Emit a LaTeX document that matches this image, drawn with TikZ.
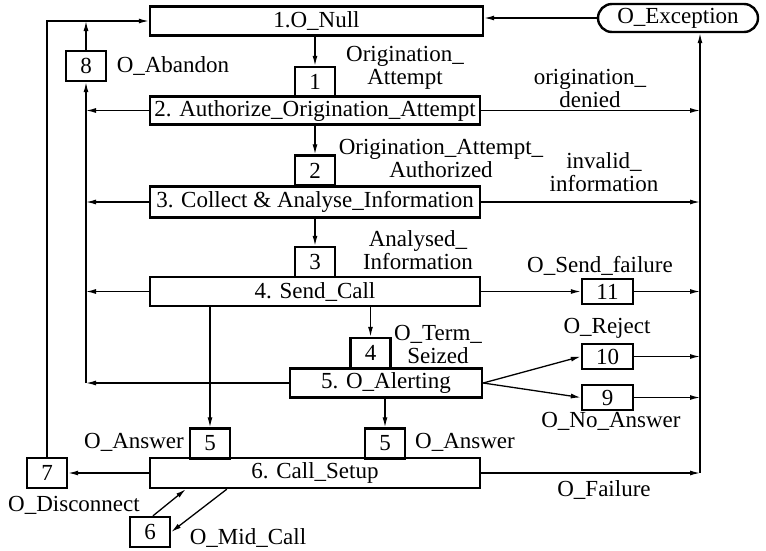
\documentclass[tikz,border=0pt]{standalone}
\usepackage{fontspec}
\setmainfont{Liberation Serif}
\usetikzlibrary{calc, arrows.meta}

\begin{document}
\begin{tikzpicture}[x=1pt, y=-1pt, line width=1.3pt,
  font=\fontsize{23}{23}\selectfont,
  arr/.style={-{Latex[length=10pt, width=5pt]}},
  statebox/.style={draw, line width=2.4pt, minimum width=330, minimum height=29, inner sep=0pt},
  numbox/.style={draw, line width=2.4pt, minimum width=40, minimum height=30, inner sep=0pt},
  wnumbox/.style={numbox, minimum width=51, minimum height=25},
  lbl/.style={inner sep=0pt, align=center}]
  \useasboundingbox (0,0) rectangle (766,550);

  % 状态框
  \node[statebox, minimum width=333] (null) at (316.5,21) {1.O\_Null};
  \node[statebox, minimum height=28] (auth) at (315,110.5) {2. Authorize\_Origination\_Attempt};
  \node[statebox, minimum height=31] (coll) at (315,202) {3. Collect \& Analyse\_Information};
  \node[statebox] (send) at (315,291.5) {4. Send\_Call};
  \node[statebox, minimum width=192] (alert) at (386,383) {5. O\_Alerting};
  \node[statebox, minimum height=30] (setup) at (315,473) {6. Call\_Setup};
  \node[statebox, minimum width=160, minimum height=28, rounded corners=14] (exc) at (678,18) {O\_Exception};

  % 编号小框
  \node[numbox] (b1) at (315,82) {1};
  \node[numbox] (b2) at (315,170.5) {2};
  \node[numbox] (b3) at (315,262) {3};
  \node[numbox] (b4) at (370.5,353) {4};
  \node[numbox] (b5a) at (210,443.5) {5};
  \node[numbox] (b5b) at (385,443.5) {5};
  \node[numbox] (b6) at (150,532) {6};
  \node[numbox] (b7) at (47,473) {7};
  \node[numbox] (b8) at (86,66) {8};
  \node[wnumbox] (b9) at (607.5,397.5) {9};
  \node[wnumbox] (b10) at (607.5,356.5) {10};
  \node[wnumbox] (b11) at (607.5,291.5) {11};

  \coordinate (rbot) at (700,473);
  \coordinate (lbus) at (86,383);

  % 主流程
  \draw[arr] (null.south -| b1) -- (b1.north);
  \draw[arr] (auth.south -| b2) -- (b2.north);
  \draw[arr] (coll.south -| b3) -- (b3.north);
  \draw[arr] (send.south -| b4) -- (b4.north);
  \draw[arr] (send.south -| b5a) -- (b5a.north);
  \draw[arr] (alert.south -| b5b) -- (b5b.north);
  \draw[arr] ($(b6.north)+(3,0)$) -- ($(setup.south west)+(37,0)$);
  \draw[arr] ($(setup.south west)+(78,0)$) -- (b6.east);

  % 右侧：到 O_Exception
  \draw[arr] (rbot) -- (rbot |- exc.south);
  \draw[arr] (setup.east) -- (rbot);
  \draw[arr] (auth.east) -- (auth.east -| rbot);
  \draw[arr] (coll.east) -- (coll.east -| rbot);
  \draw[arr] (send.east) -- (b11.west);
  \draw[arr] (b11.east) -- (b11.east -| rbot);
  \draw[arr] (alert.east) -- (b10.west);
  \draw[arr] (alert.east) -- (b9.west);
  \draw[arr] (b10.east) -- (b10.east -| rbot);
  \draw[arr] (b9.east) -- (b9.east -| rbot);
  \draw[arr] (exc.west) -- (exc.west -| null.east);

  % 左侧：O_Abandon / O_Disconnect
  \draw[arr] (alert.west) -- (lbus);
  \draw[arr] (lbus) -- (b8.south);
  \draw[arr] (auth.west) -- (auth.west -| lbus);
  \draw[arr] (coll.west) -- (coll.west -| lbus);
  \draw[arr] (send.west) -- (send.west -| lbus);
  \draw[arr] (b8.north) -- (b8.north |- null.west);
  \draw[arr] (setup.west) -- (b7.east);
  \draw[arr] (b7.north) |- (null.west);

  % 标注
  \node[lbl] (tOA) at (405,68) {Origination\_\\Attempt};
  \node[lbl] (tAb) at (173,66) {O\_Abandon};
  \node[lbl] (tOd) at (590,88) {origination\_\\denied};
  \node[lbl] (tAu) at (441,158) {Origination\_Attempt\_\\Authorized};
  \node[lbl] (tIn) at (604,172) {invalid\_\\information};
  \node[lbl] (tAn) at (418,250) {Analysed\_\\Information};
  \node[lbl] (tSf) at (600,266) {O\_Send\_failure};
  \node[lbl] (tTs) at (438,344) {O\_Term\_\\Seized};
  \node[lbl] (tRj) at (607,328) {O\_Reject};
  \node[lbl] (tNa) at (611,421) {O\_No\_Answer};
  \node[lbl] (tA1) at (134,442) {O\_Answer};
  \node[lbl] (tA2) at (465,442) {O\_Answer};
  \node[lbl] (tFl) at (604,490) {O\_Failure};
  \node[lbl] (tDc) at (74,505) {O\_Disconnect};
  \node[lbl] (tMc) at (248,538) {O\_Mid\_Call};
\end{tikzpicture}
\end{document}
